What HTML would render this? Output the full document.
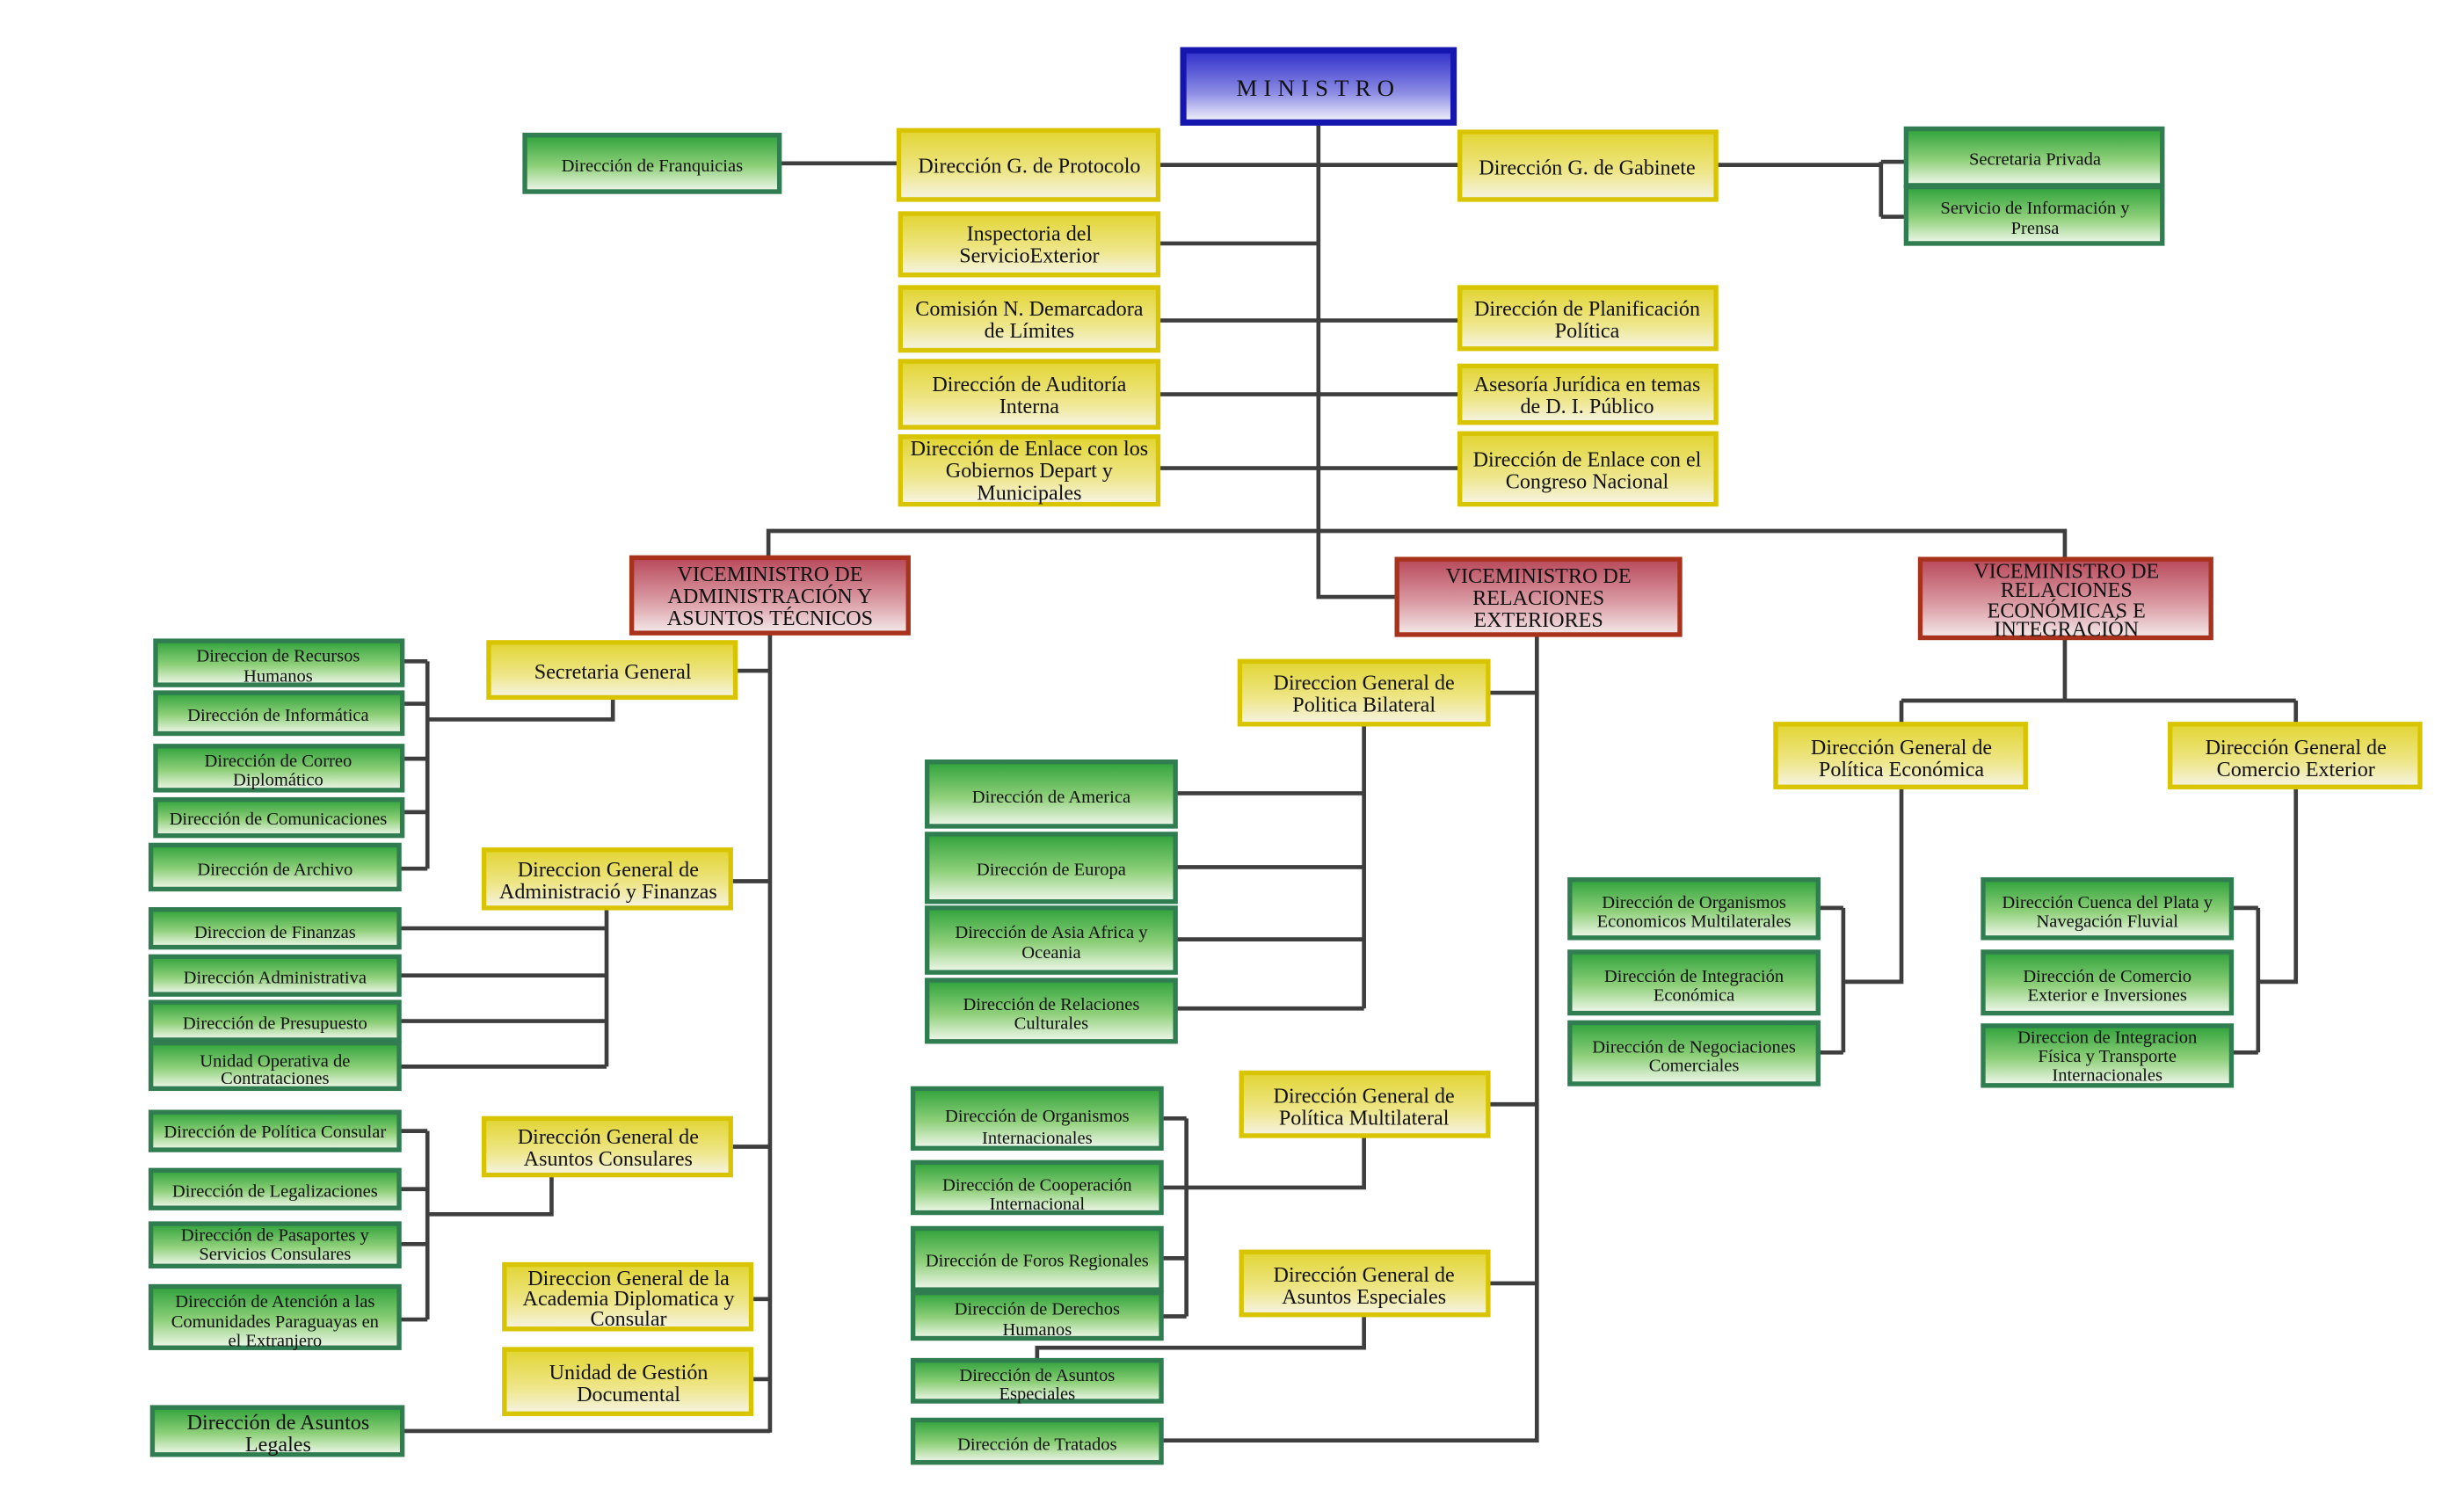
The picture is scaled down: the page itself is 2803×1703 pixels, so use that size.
<!DOCTYPE html>
<html><head><meta charset="utf-8"><style>
html,body{margin:0;padding:0;background:#fff;}
svg{display:block}
text{font-family:"Liberation Serif",serif;fill:#111;text-anchor:middle}
.g{fill:url(#gg);stroke:#2f7d50;stroke-width:3}
.y{fill:url(#gy);stroke:#d8c400;stroke-width:3}
.r{fill:url(#gr);stroke:#a8321c;stroke-width:3}
.l{stroke:#3e3e3e;stroke-width:2.6;fill:none}
.gt{font-size:11.5px}
.yt{font-size:13.5px}
.rt{font-size:13.5px}
</style></head><body>
<svg width="2803" height="1703" viewBox="0 0 1568 953" preserveAspectRatio="none">
<defs>
<linearGradient id="gg" x1="0" y1="0" x2="0" y2="1"><stop offset="0" stop-color="#2fa23a"/><stop offset="0.55" stop-color="#8fd07a"/><stop offset="1" stop-color="#f2f8ee"/></linearGradient>
<linearGradient id="gy" x1="0" y1="0" x2="0" y2="1"><stop offset="0" stop-color="#e2d532"/><stop offset="0.6" stop-color="#eee68a"/><stop offset="1" stop-color="#f6f4e6"/></linearGradient>
<linearGradient id="gr" x1="0" y1="0" x2="0" y2="1"><stop offset="0" stop-color="#b8485a"/><stop offset="0.6" stop-color="#dca0a8"/><stop offset="1" stop-color="#f4eaea"/></linearGradient>
<linearGradient id="gb" x1="0" y1="0" x2="0" y2="1"><stop offset="0" stop-color="#3434cc"/><stop offset="0.6" stop-color="#8c8ce4"/><stop offset="1" stop-color="#ececfa"/></linearGradient>
</defs>

<g class="l">
<path d="M839 80V380H889"/>
<path d="M737 105H929M496 104H572"/>
<path d="M1092 105H1197M1197 103V138M1197 103H1213M1197 138H1213"/>
<path d="M737 155H839M737 204H929M737 251H929M737 298H929"/>
<path d="M489 355V338H1314V356"/>
<path d="M490 403V912"/>
<path d="M468 427H490M390 444V458H272M272 421V553M256 421H272M256 448H272M256 483H272M256 517H272M254 553H272"/>
<path d="M465 561H490M386 578V679M254 591H386M254 621H386M254 650H386M254 679H386"/>
<path d="M465 730H490M351 748V773H272M272 720V840M254 720H272M254 757H272M254 792H272M254 840H272"/>
<path d="M478 827H490M478 878H490M256 911H490"/>
<path d="M978 404V917H739"/>
<path d="M947 441H978M868 461V642M748 505H868M748 552H868M748 598H868M748 642H868"/>
<path d="M947 703H978M868 723V756H739M755 712V838M739 712H755M739 801H755M739 838H755"/>
<path d="M947 817H978M868 837V858H660V866"/>
<path d="M1314 406V446M1210 446H1461M1210 461V446M1461 461V446"/>
<path d="M1210 501V625H1173M1173 578V670M1157 578H1173M1157 670H1173"/>
<path d="M1461 501V625H1437M1437 578V670M1420 578H1437M1420 670H1437"/>
</g>

<rect x="751" y="30" width="176" height="50" fill="#1515b0"/>
<rect x="755" y="34" width="168" height="42" fill="url(#gb)"/>
<text x="839" y="61" style="font-size:15px;letter-spacing:4px">MINISTRO</text>

<rect class="g" x="334" y="86" width="162" height="36"/><text class="gt" x="415" y="109">Dirección de Franquicias</text>
<rect class="y" x="572" y="83" width="165" height="44"/><text class="yt" x="655" y="110">Dirección G. de Protocolo</text>
<rect class="y" x="929" y="84" width="163" height="43"/><text class="yt" x="1010" y="111">Dirección G. de Gabinete</text>
<rect class="g" x="1213" y="82" width="163" height="36"/><text class="gt" x="1295" y="105">Secretaria Privada</text>
<rect class="g" x="1213" y="119" width="163" height="36"/><text class="gt" x="1295" y="136">Servicio  de Información y</text><text class="gt" x="1295" y="149">Prensa</text>
<rect class="y" x="573" y="136" width="164" height="39"/><text class="yt" x="655" y="153">Inspectoria del</text><text class="yt" x="655" y="167">ServicioExterior</text>
<rect class="y" x="573" y="183" width="164" height="40"/><text class="yt" x="655" y="201">Comisión N. Demarcadora</text><text class="yt" x="655" y="215">de Límites</text>
<rect class="y" x="573" y="230" width="164" height="42"/><text class="yt" x="655" y="249">Dirección de Auditoría</text><text class="yt" x="655" y="263">Interna</text>
<rect class="y" x="573" y="278" width="164" height="43"/><text class="yt" x="655" y="290">Dirección de Enlace con los</text><text class="yt" x="655" y="304">Gobiernos Depart y</text><text class="yt" x="655" y="318">Municipales</text>
<rect class="y" x="929" y="183" width="163" height="39"/><text class="yt" x="1010" y="201">Dirección de Planificación</text><text class="yt" x="1010" y="215">Política</text>
<rect class="y" x="929" y="233" width="163" height="36"/><text class="yt" x="1010" y="249">Asesoría Jurídica en temas</text><text class="yt" x="1010" y="263">de D. I. Público</text>
<rect class="y" x="929" y="276" width="163" height="45"/><text class="yt" x="1010" y="297">Dirección de Enlace con el</text><text class="yt" x="1010" y="311">Congreso Nacional</text>

<rect class="r" x="402" y="355" width="176" height="48"/><text class="rt" x="490" y="370">VICEMINISTRO DE</text><text class="rt" x="490" y="384">ADMINISTRACIÓN Y</text><text class="rt" x="490" y="398">ASUNTOS TÉCNICOS</text>
<rect class="r" x="889" y="356" width="180" height="48"/><text class="rt" x="979" y="371">VICEMINISTRO DE</text><text class="rt" x="979" y="385">RELACIONES</text><text class="rt" x="979" y="399">EXTERIORES</text>
<rect class="r" x="1222" y="356" width="185" height="50"/><text class="rt" x="1315" y="368">VICEMINISTRO DE</text><text class="rt" x="1315" y="380">RELACIONES</text><text class="rt" x="1315" y="393">ECONÓMICAS E</text><text class="rt" x="1315" y="405">INTEGRACIÓN</text>

<rect class="y" x="311" y="409" width="157" height="35"/><text class="yt" x="390" y="432">Secretaria General</text>
<rect class="g" x="99" y="408" width="157" height="28"/><text class="gt" x="177" y="421">Direccion de Recursos</text><text class="gt" x="177" y="434">Humanos</text>
<rect class="g" x="99" y="441" width="157" height="26"/><text class="gt" x="177" y="459">Dirección de Informática</text>
<rect class="g" x="99" y="475" width="157" height="28"/><text class="gt" x="177" y="488">Dirección de Correo</text><text class="gt" x="177" y="500">Diplomático</text>
<rect class="g" x="99" y="509" width="157" height="23"/><text class="gt" x="177" y="525">Dirección de Comunicaciones</text>
<rect class="g" x="96" y="538" width="158" height="28"/><text class="gt" x="175" y="557">Dirección de Archivo</text>
<rect class="y" x="308" y="541" width="157" height="37"/><text class="yt" x="387" y="558">Direccion General de</text><text class="yt" x="387" y="572">Administració y Finanzas</text>
<rect class="g" x="96" y="579" width="158" height="24"/><text class="gt" x="175" y="597">Direccion de Finanzas</text>
<rect class="g" x="96" y="609" width="158" height="24"/><text class="gt" x="175" y="626">Dirección Administrativa</text>
<rect class="g" x="96" y="638" width="158" height="24"/><text class="gt" x="175" y="655">Dirección de Presupuesto</text>
<rect class="g" x="96" y="664" width="158" height="29"/><text class="gt" x="175" y="679">Unidad Operativa de</text><text class="gt" x="175" y="690">Contrataciones</text>
<rect class="y" x="308" y="712" width="157" height="36"/><text class="yt" x="387" y="728">Dirección General de</text><text class="yt" x="387" y="742">Asuntos Consulares</text>
<rect class="g" x="96" y="708" width="158" height="24"/><text class="gt" x="175" y="724">Dirección de Política Consular</text>
<rect class="g" x="96" y="745" width="158" height="24"/><text class="gt" x="175" y="762">Dirección de Legalizaciones</text>
<rect class="g" x="96" y="779" width="158" height="27"/><text class="gt" x="175" y="790">Dirección de Pasaportes y</text><text class="gt" x="175" y="802">Servicios Consulares</text>
<rect class="g" x="96" y="819" width="158" height="39"/><text class="gt" x="175" y="832">Dirección de Atención a las</text><text class="gt" x="175" y="845">Comunidades Paraguayas en</text><text class="gt" x="175" y="857">el Extranjero</text>
<rect class="y" x="321" y="805" width="157" height="41"/><text class="yt" x="400" y="818">Direccion General de la</text><text class="yt" x="400" y="831">Academia Diplomatica y</text><text class="yt" x="400" y="844">Consular</text>
<rect class="y" x="321" y="859" width="157" height="41"/><text class="yt" x="400" y="878">Unidad de Gestión</text><text class="yt" x="400" y="892">Documental</text>
<rect class="g" x="97" y="896" width="159" height="30"/><text class="yt" x="177" y="910">Dirección de Asuntos</text><text class="yt" x="177" y="924">Legales</text>

<rect class="y" x="789" y="421" width="158" height="40"/><text class="yt" x="868" y="439">Direccion General de</text><text class="yt" x="868" y="453">Politica Bilateral</text>
<rect class="g" x="590" y="485" width="158" height="41"/><text class="gt" x="669" y="511">Dirección de America</text>
<rect class="g" x="590" y="531" width="158" height="43"/><text class="gt" x="669" y="557">Dirección de Europa</text>
<rect class="g" x="590" y="578" width="158" height="41"/><text class="gt" x="669" y="597">Dirección de Asia Africa y</text><text class="gt" x="669" y="610">Oceania</text>
<rect class="g" x="590" y="624" width="158" height="39"/><text class="gt" x="669" y="643">Dirección de Relaciones</text><text class="gt" x="669" y="655">Culturales</text>
<rect class="y" x="790" y="683" width="157" height="40"/><text class="yt" x="868" y="702">Dirección General de</text><text class="yt" x="868" y="716">Política Multilateral</text>
<rect class="g" x="581" y="693" width="158" height="38"/><text class="gt" x="660" y="714">Dirección de Organismos</text><text class="gt" x="660" y="728">Internacionales</text>
<rect class="g" x="581" y="740" width="158" height="32"/><text class="gt" x="660" y="758">Dirección de Cooperación</text><text class="gt" x="660" y="770">Internacional</text>
<rect class="g" x="581" y="782" width="158" height="39"/><text class="gt" x="660" y="806">Dirección de Foros Regionales</text>
<rect class="g" x="581" y="823" width="158" height="29"/><text class="gt" x="660" y="837">Dirección de Derechos</text><text class="gt" x="660" y="850">Humanos</text>
<rect class="y" x="790" y="797" width="157" height="40"/><text class="yt" x="868" y="816">Dirección General de</text><text class="yt" x="868" y="830">Asuntos Especiales</text>
<rect class="g" x="581" y="866" width="158" height="26"/><text class="gt" x="660" y="879">Dirección de Asuntos</text><text class="gt" x="660" y="891">Especiales</text>
<rect class="g" x="581" y="904" width="158" height="27"/><text class="gt" x="660" y="923">Dirección de Tratados</text>

<rect class="y" x="1130" y="461" width="159" height="40"/><text class="yt" x="1210" y="480">Dirección General de</text><text class="yt" x="1210" y="494">Política Económica</text>
<rect class="y" x="1381" y="461" width="159" height="40"/><text class="yt" x="1461" y="480">Dirección  General de</text><text class="yt" x="1461" y="494">Comercio Exterior</text>
<rect class="g" x="999" y="560" width="158" height="37"/><text class="gt" x="1078" y="578">Dirección de Organismos</text><text class="gt" x="1078" y="590">Economicos Multilaterales</text>
<rect class="g" x="999" y="606" width="158" height="39"/><text class="gt" x="1078" y="625">Dirección de Integración</text><text class="gt" x="1078" y="637">Económica</text>
<rect class="g" x="999" y="651" width="158" height="39"/><text class="gt" x="1078" y="670">Dirección de Negociaciones</text><text class="gt" x="1078" y="682">Comerciales</text>
<rect class="g" x="1262" y="560" width="158" height="37"/><text class="gt" x="1341" y="578">Dirección Cuenca del Plata y</text><text class="gt" x="1341" y="590">Navegación Fluvial</text>
<rect class="g" x="1262" y="606" width="158" height="39"/><text class="gt" x="1341" y="625">Dirección de Comercio</text><text class="gt" x="1341" y="637">Exterior e Inversiones</text>
<rect class="g" x="1262" y="653" width="158" height="38"/><text class="gt" x="1341" y="664">Direccion de Integracion</text><text class="gt" x="1341" y="676">Física y Transporte</text><text class="gt" x="1341" y="688">Internacionales</text>
</svg>
</body></html>
